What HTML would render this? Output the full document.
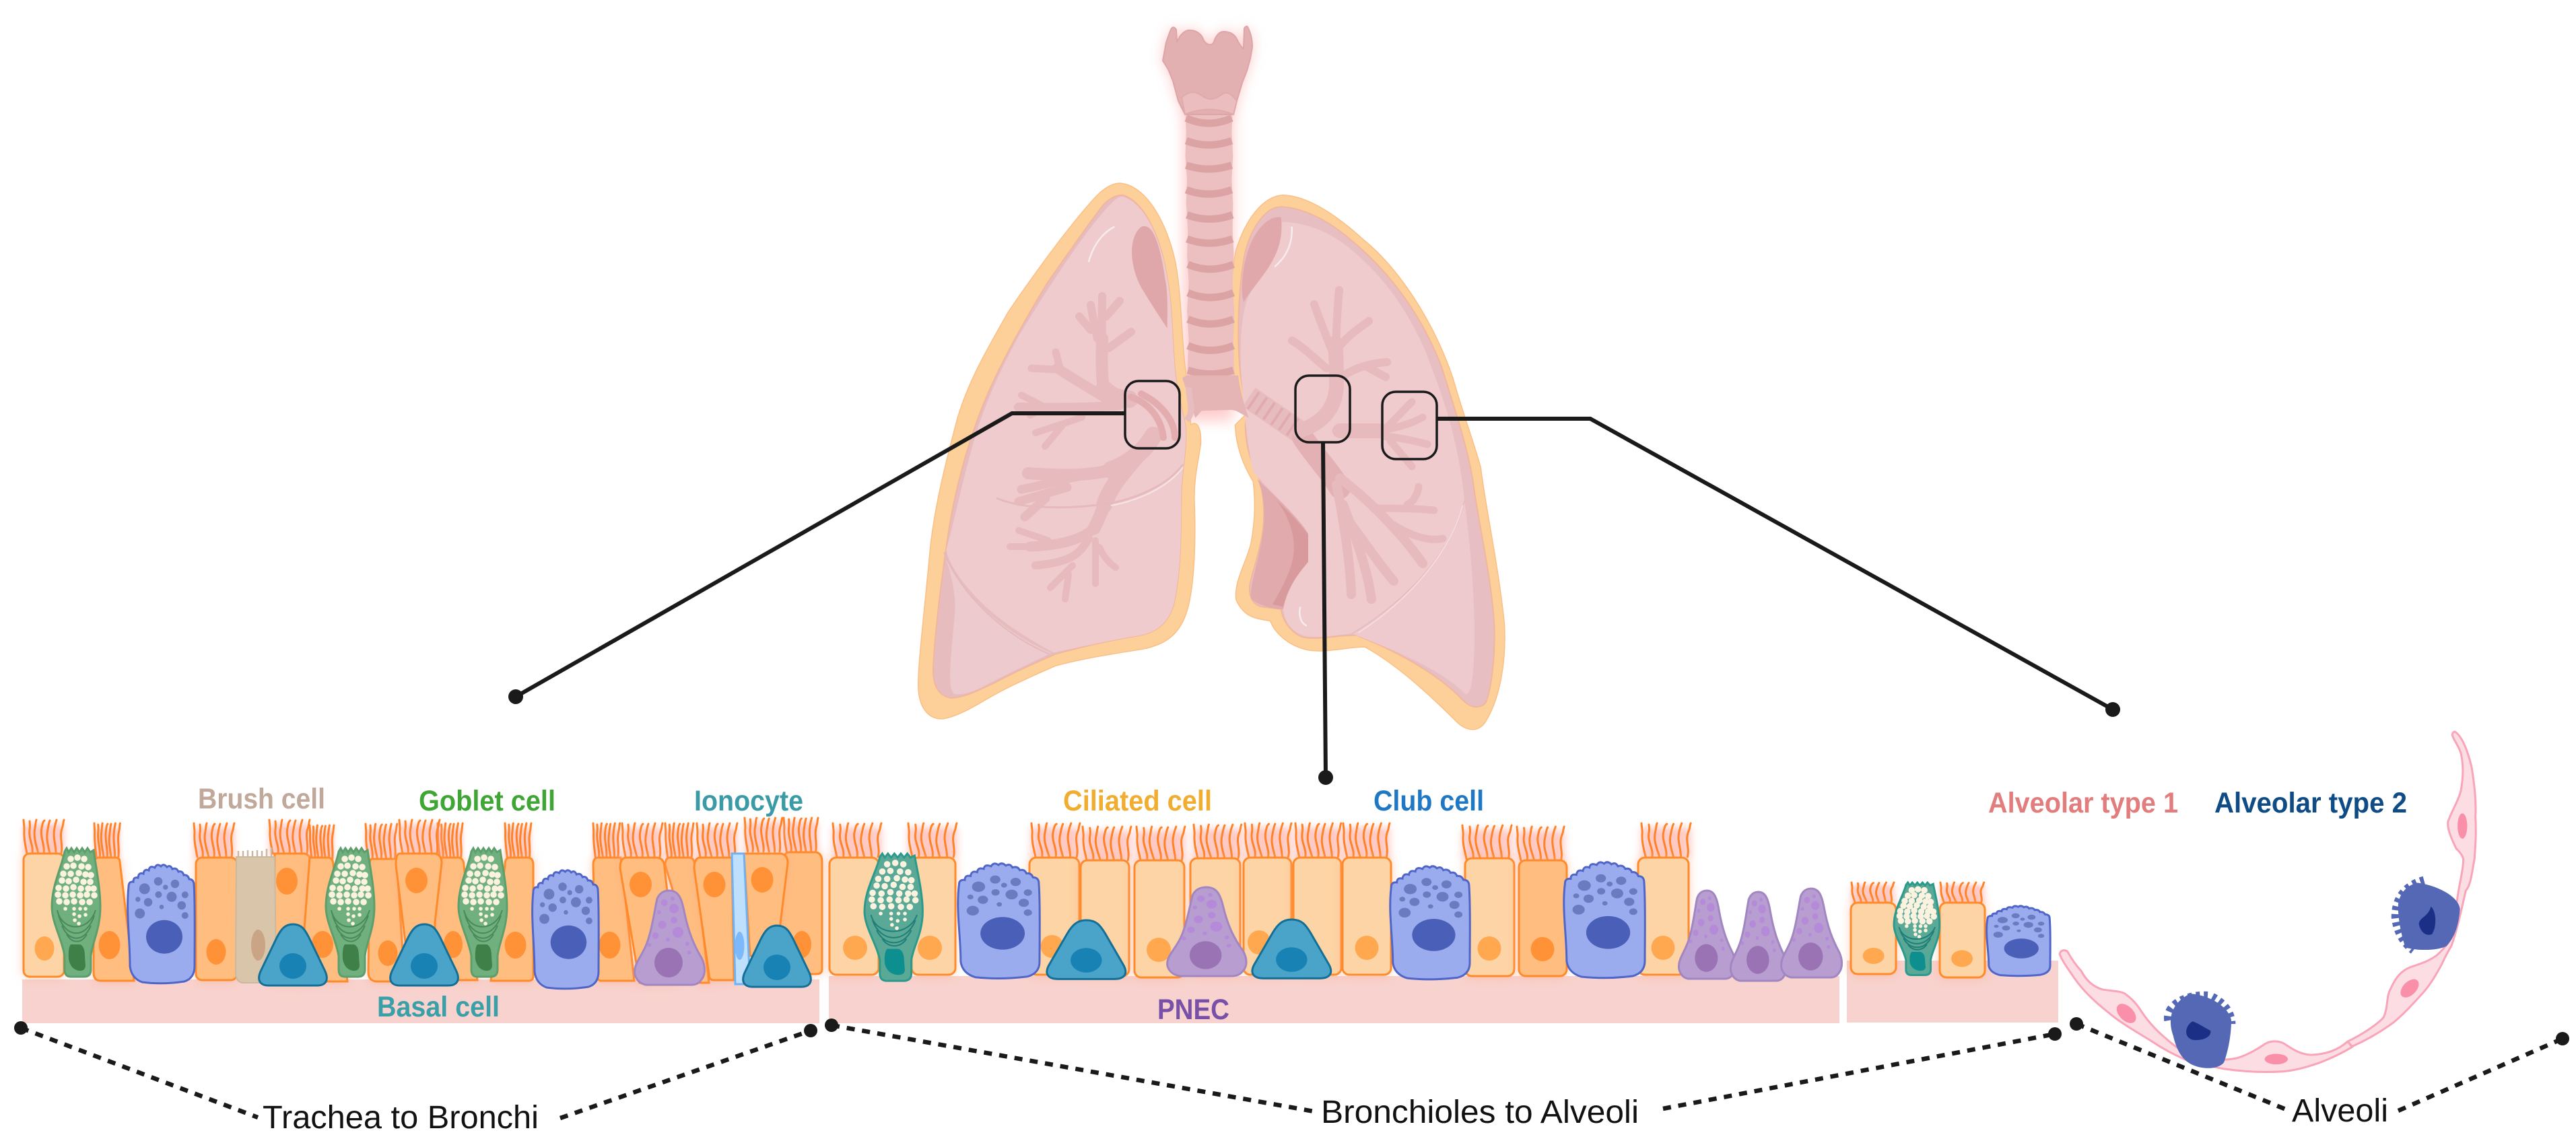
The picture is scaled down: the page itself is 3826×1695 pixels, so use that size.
<!DOCTYPE html>
<html>
<head>
<meta charset="utf-8">
<style>
html,body{margin:0;padding:0;background:#fff}
svg{display:block}
svg *{vector-effect:non-scaling-stroke}
text{font-family:"Liberation Sans",sans-serif}
.lab{font-weight:bold;font-size:43px}
.blk{font-size:48px;fill:#111}
.cl{fill:#fdd4a5;stroke:#ff8a2a;stroke-width:3;filter:drop-shadow(0 0 7px rgba(255,170,130,.55))}
.cd{fill:#ffbe80;stroke:#ff8a2a;stroke-width:3;filter:drop-shadow(0 0 7px rgba(255,170,130,.55))}
.nl{fill:#ffa850}
.nd{fill:#ff9236}
.dash{fill:none;stroke:#1a1a1a;stroke-width:6.5;stroke-dasharray:12 11}
.con{fill:none;stroke:#1a1a1a;stroke-width:6}
.box{fill:none;stroke:#1a1a1a;stroke-width:3.5}
.bt{fill:none;stroke:#e7babd;stroke-linecap:round;stroke-linejoin:round}
</style>
</head>
<body>
<svg xmlns="http://www.w3.org/2000/svg" width="3826" height="1695" viewBox="0 0 3826 1695">
<defs>
<filter id="b8" x="-40%" y="-40%" width="180%" height="180%"><feGaussianBlur stdDeviation="10"/></filter>
<filter id="b5" x="-30%" y="-30%" width="160%" height="160%"><feGaussianBlur stdDeviation="5"/></filter>
<path id="lx" d="M1738 46Q1742 36 1747 44L1748 63C1752 52 1760 44 1768 45C1778 45 1785 52 1787 58C1790 66 1800 70 1803 62C1806 52 1812 47 1817 47C1828 47 1834 52 1837 58C1840 65 1845 72 1847 72L1848 42Q1852 36 1854 42C1858 50 1860 60 1860 70L1857 87L1852 105L1845 123L1837 150L1832 170L1760 170L1750 150L1742 120L1735 103L1727 90L1732 63Z"/>
<g id="ci">
<rect x="0" y="6" width="60" height="46" fill="#ffaea6" opacity=".65" filter="url(#b5)"/>
<path fill="none" stroke="#ff8226" stroke-width="3" stroke-linecap="round" d="M5 50C3 38 0 28 1 14 1 8 0 3 0 0M13 50C15 38 7 28 9 14 10 8 9 3 9 2M22 50C19 38 14 25 17 12 18 6 18 2 19 0M30 50C32 38 24 25 27 12 28 6 29 2 31 1M39 50C36 36 33 28 36 14 37 8 38 3 39 1M48 50C48 36 43 26 46 12 47 6 48 3 49 0M56 50C59 35 52 25 58 10 59 6 59 2 60 0"/>
</g>
<g id="go">
<path style="fill:var(--gf);stroke:var(--gs)" stroke-width="3" d="M19 5L22 0L25 6L29 0L33 6L37 0L41 6L45 0L49 6L53 0L57 6L62 3C66 30 72 60 72 87C72 120 60 140 58 160L58 180Q58 191 48 191L28 191Q19 191 19 180L19 160C15 135 0 110 0 87C0 55 14 30 19 5Z"/>
<path fill="none" stroke="#fbf3df" stroke-width="9.5" stroke-linecap="round" d="M28 16h.1M38 14h.1M48 16h.1M22 27h.1M32 26h.1M44 27h.1M54 28h.1M17 38h.1M28 38h.1M40 37h.1M50 39h.1M58 40h.1M15 48h.1M25 49h.1M36 47h.1M47 50h.1M57 50h.1M10 59h.1M21 60h.1M32 58h.1M43 60h.1M54 60h.1M62 60h.1M9 69h.1M20 70h.1M31 69h.1M42 70h.1M52 69h.1M63 70h.1M11 79h.1M22 80h.1M33 79h.1M45 80h.1M56 80h.1"/>
<path fill="none" stroke="#fbf3df" stroke-width="5.5" stroke-linecap="round" d="M20 90h.1M33 90h.1M42 90h.1M50 90h.1M33 98h.1M41 101h.1M50 99h.1M34 107h.1M40 112h.1"/>
<path fill="none" style="stroke:var(--ga)" stroke-width="2" d="M8 92C15 125 55 125 65 92M10 100C20 135 52 135 63 100M15 115C25 140 48 140 58 115M22 128C30 142 44 142 52 128"/>
<path style="fill:var(--gn)" d="M28 143L42 143Q49 146 49 160L50 175Q49 183 40 182Q28 180 25 165Q24 148 28 143Z"/>
</g>
<g id="cb">
<path fill="#9bacee" stroke="#4f66c8" stroke-width="3" d="M2 32Q2 24 9 25Q9 17 16 19Q17 10 24 13Q25 5 32 8Q33 0 41 4Q44 -3 50 2Q54 -3 59 3Q64 -1 67 6Q73 3 76 10Q82 8 84 15Q90 14 92 21Q98 21 99 28C101 60 100 110 100 150Q100 168 85 173Q52 178 22 174Q6 168 4 150C4 110 -2 70 2 32Z"/>
<g fill="#6a7bc0">
<circle cx="25.7" cy="35.3" r="8"/><circle cx="46" cy="24.3" r="6.3"/><circle cx="70.9" cy="28" r="6.3"/><circle cx="56.8" cy="33" r="3.7"/><circle cx="46.4" cy="44" r="5"/><circle cx="66" cy="47.3" r="7.5"/><circle cx="85.8" cy="44.3" r="5"/><circle cx="15.8" cy="51" r="3.7"/><circle cx="31" cy="55.3" r="6.3"/><circle cx="80.8" cy="60" r="6.3"/><circle cx="51" cy="62.3" r="3.3"/><circle cx="18.7" cy="72" r="7.5"/><circle cx="85.8" cy="75" r="5"/>
</g>
<ellipse cx="55" cy="106.7" rx="27" ry="25" fill="#4a5fb8"/>
</g>
<g id="ba">
<path fill="#4aa3c9" stroke="#146f97" stroke-width="3" d="M52 0C65 0 70 8 76 20L100 70C106 84 100 91 88 91L16 91C4 91 -2 84 4 70L28 20C34 8 40 0 52 0Z"/>
<ellipse cx="52" cy="62" rx="20" ry="19" fill="#1782b3"/>
</g>
<g id="pn">
<path fill="#b79dd0" stroke="#a286c2" stroke-width="3" d="M52 0C65 0 70 10 74 30C80 60 88 80 100 100C106 112 106 125 100 132Q95 140 85 140L18 140Q5 138 1 125C-2 110 10 100 18 80C26 60 30 30 34 12C38 3 44 0 52 0Z"/>
<g fill="#b58bd9">
<circle cx="44.7" cy="18" r="5"/><circle cx="59" cy="26.7" r="7"/><circle cx="57" cy="12" r="3"/><circle cx="59" cy="44" r="5"/><circle cx="41.5" cy="50.7" r="6"/><circle cx="37" cy="32" r="3"/><circle cx="65" cy="62" r="8"/><circle cx="31.6" cy="67" r="5"/><circle cx="50" cy="72.7" r="3"/><circle cx="79" cy="79" r="3"/><circle cx="81.6" cy="92" r="3"/><circle cx="22.5" cy="80.7" r="3"/>
</g>
<ellipse cx="51" cy="107" rx="21" ry="22" fill="#9a73b5"/>
</g>
</defs>

<!-- glow behind airway -->
<use href="#lx" fill="#ff8f8f" opacity=".5" filter="url(#b8)"/>
<rect x="1758" y="165" width="74" height="460" fill="#ff8f8f" opacity=".45" filter="url(#b8)"/>

<!-- LEFT LUNG -->
<g transform="translate(1300,0) scale(.6378,.7015)">
<path fill="#fdd09a" stroke="#fbbf85" stroke-width="1.5" d="M570 388C630 392 680 470 700 560C715 640 712 720 725 800L735 900C745 890 760 900 758 940C752 980 742 1010 743 1060C746 1130 745 1220 730 1280C715 1340 680 1365 620 1375C550 1385 480 1395 420 1410C370 1430 320 1450 280 1470C240 1490 200 1515 160 1522C125 1525 100 1500 100 1450C100 1400 115 1290 128 1160C140 1060 170 960 190 890C215 810 260 740 310 660C370 580 450 480 510 420C530 400 550 388 570 388Z"/>
<path fill="#e6bcbf" stroke="#f0b69e" stroke-width="2" d="M575 413C625 425 665 500 680 590C695 660 690 760 705 830L722 900C728 950 712 1000 712 1060C712 1130 712 1210 695 1280C680 1325 650 1338 620 1345C550 1355 480 1370 420 1385C370 1405 320 1425 280 1445C240 1462 205 1478 175 1478C145 1472 133 1450 135 1410C140 1330 155 1220 170 1130C185 1040 215 940 250 860C285 780 340 690 400 600C450 535 500 470 530 435C545 420 560 413 575 413Z"/>
<path fill="#efcbce" d="M575 416C625 428 665 500 680 590C695 660 690 760 705 830L722 900C728 950 712 1000 712 1060C712 1130 712 1210 695 1280C680 1325 650 1338 620 1345C550 1355 480 1370 415 1382C350 1350 280 1310 230 1260C200 1230 175 1200 165 1165C185 1100 200 1030 222 960C247 870 287 790 335 710C395 620 480 500 540 440C552 428 565 416 575 416Z"/>
<path fill="#eccace" d="M160 1170C200 1260 300 1340 410 1383C360 1405 300 1430 260 1450C230 1465 205 1472 185 1470C165 1462 178 1380 185 1300C190 1250 170 1200 160 1170Z"/>
<path fill="#dfa7a9" d="M620 480C590 500 590 560 620 610C640 640 665 675 680 695C680 660 682 620 675 590C665 530 650 470 620 480Z"/>
<path fill="none" stroke="#f7ecec" stroke-width="2.5" d="M497 555C505 525 525 495 557 480"/>
<path fill="none" stroke="#e5b9bc" stroke-width="2" d="M160 1170C200 1260 300 1345 405 1385"/>
</g>
<g class="bt">
<path stroke-width="26" d="M1677 593C1660 592 1650 588 1640 578"/>
<path stroke-width="18" d="M1640 585C1636 560 1636 530 1637 503"/>
<path stroke-width="12" d="M1637 510C1636 480 1637 460 1637 440M1630 503C1626 485 1622 465 1620 453M1620 490L1603 470M1643 470L1663 447M1647 517L1680 493"/>
<path stroke-width="15" d="M1640 590C1615 575 1590 560 1570 547"/>
<path stroke-width="11" d="M1575 550L1568 523M1570 549L1532 547"/>
<path stroke-width="14" d="M1663 602C1620 606 1560 606 1513 605"/>
<path stroke-width="10" d="M1517 587L1547 602M1530 617L1550 606"/>
<path stroke-width="10" d="M1607 620L1538 643M1577 633L1552 663"/>
<path stroke-width="26" d="M1713 647C1700 670 1675 690 1650 698"/>
<path stroke-width="18" d="M1652 698C1625 705 1590 708 1527 703"/>
<path stroke-width="13" d="M1600 708C1580 712 1545 722 1517 727M1585 724L1513 745M1553 740L1522 768"/>
<path stroke-width="24" d="M1695 670C1670 700 1650 720 1640 750"/>
<path stroke-width="19" d="M1640 750C1635 765 1630 775 1625 785"/>
<path stroke-width="15" d="M1627 783C1610 800 1580 810 1530 812"/>
<path stroke-width="10" d="M1530 812L1500 812M1557 803L1513 788"/>
<path stroke-width="12" d="M1617 800C1605 820 1595 835 1538 840"/>
<path stroke-width="10" d="M1593 840L1560 873M1587 853L1582 890M1627 803L1627 867M1633 813C1638 825 1645 835 1657 843"/>
<path stroke-width="10" stroke="#e3adb0" d="M1680 590C1710 600 1725 625 1728 650M1695 585C1725 600 1745 625 1745 650"/>
</g>
<path fill="none" stroke="#e6babd" stroke-width="3" d="M1480 740C1500 748 1525 753 1547 753C1585 755 1620 752 1647 748C1690 740 1735 720 1757 690"/>
<path fill="none" stroke="#f7e4e4" stroke-width="2" d="M1650 751C1690 744 1735 724 1757 694"/>

<!-- RIGHT LUNG -->
<g transform="translate(1300,0) scale(.6378,.7015)">
<path fill="#fdd09a" stroke="#fbbf85" stroke-width="1.5" d="M950 413C1010 415 1080 460 1140 510C1220 570 1300 680 1345 800C1370 880 1395 940 1410 990C1420 1070 1450 1190 1465 1320C1470 1400 1455 1480 1420 1530C1400 1555 1370 1545 1350 1525C1300 1480 1220 1410 1140 1370C1100 1370 1040 1385 1000 1375C960 1365 930 1340 920 1315C890 1310 860 1310 840 1270C835 1230 865 1190 875 1150C885 1100 885 1060 880 1020C860 990 840 950 838 900L860 880L835 790C820 700 825 600 840 530C860 470 900 415 950 413Z"/>
<path fill="#e7bfc2" stroke="#f0b69e" stroke-width="2" d="M945 438C1000 440 1060 470 1110 510C1190 570 1270 660 1320 780C1350 870 1385 960 1395 1040C1410 1130 1440 1250 1442 1340C1442 1410 1432 1470 1420 1490C1400 1505 1380 1495 1360 1475C1310 1430 1230 1385 1120 1345C1080 1345 1030 1355 1000 1350C975 1345 950 1320 945 1290L900 1285C880 1280 870 1265 872 1240C880 1200 905 1150 905 1090C905 1060 900 1030 895 1015C880 990 862 950 862 900L865 880L850 790C840 700 848 600 860 540C875 480 910 438 945 438Z"/>
<path fill="#efcbce" d="M945 470C1000 470 1060 490 1110 530C1190 590 1260 680 1300 790C1330 860 1360 950 1372 1060C1350 1150 1260 1260 1120 1340C1080 1345 1030 1352 1000 1347C975 1340 950 1320 950 1285C960 1240 990 1210 1008 1190L1008 1130C985 1095 925 1045 880 1000C870 960 860 890 852 790C848 710 855 640 880 610C915 560 950 520 945 470Z"/>
<path fill="#eecace" d="M1372 1060C1385 1150 1395 1250 1395 1340C1395 1420 1390 1470 1375 1470C1320 1420 1220 1380 1110 1342C1250 1260 1350 1150 1372 1060Z"/>
<path fill="#e1aaac" d="M890 1015C930 1050 985 1095 1008 1130L1008 1190C990 1210 960 1240 950 1290C920 1290 890 1280 875 1268C870 1240 900 1170 905 1110C907 1080 905 1045 890 1015Z"/>
<path fill="#d89a9d" d="M935 1060C965 1085 990 1110 1008 1132L1008 1190C990 1210 965 1235 950 1285L925 1280C950 1240 975 1200 975 1160C975 1125 960 1090 935 1060Z"/>
<path fill="#e0a8aa" d="M945 460C950 500 940 530 920 560C900 590 870 620 858 640C850 620 855 570 865 540C880 490 915 455 945 460Z"/>
<path fill="none" stroke="#f7ecec" stroke-width="2.5" d="M930 565C955 545 972 520 970 480"/>
<path fill="none" stroke="#f7ecec" stroke-width="2.5" d="M990 1285C985 1300 990 1320 1005 1325"/>
<path fill="none" stroke="#e7bcbf" stroke-width="2" d="M1372 1060C1350 1150 1260 1260 1110 1342"/>
<path fill="none" stroke="#f5e0e0" stroke-width="1.5" d="M1368 1070C1345 1155 1258 1262 1125 1340"/>
</g>
<g class="bt">
<path stroke-width="34" stroke="#e7bcbf" stroke-linecap="butt" d="M1855 590L1935 645"/>
<path stroke-width="30" stroke="#dfabae" stroke-dasharray="4 10" stroke-linecap="butt" d="M1860 594L1925 638"/>
<path stroke-width="32" stroke="#e3b0b3" d="M1935 650C1955 680 1975 700 1990 725"/>
<path stroke-width="14" d="M1985 720C1995 770 2005 830 2007 883M1995 750C2010 790 2030 840 2037 890M2000 770C2030 810 2050 840 2070 863"/>
<path stroke-width="14" d="M1990 710C2030 740 2080 790 2113 837"/>
<path stroke-width="11" d="M2070 780C2095 795 2120 805 2143 800M2045 755C2070 755 2100 755 2130 758M2090 750C2100 745 2105 735 2107 723"/>
<path stroke-width="22" d="M1930 640C1960 630 1985 610 1985 570C1985 550 1985 530 1983 510"/>
<path stroke-width="12" d="M1983 540C1985 500 1985 470 1989 431M1978 520C1968 495 1958 470 1952 452M1985 520C2000 500 2015 490 2033 477"/>
<path stroke-width="12" d="M1970 547C1950 530 1935 515 1919 506M1992 560C2015 545 2035 540 2060 538M2030 545L2058 560"/>
<path stroke-width="22" d="M1990 640L2053 640"/>
<path stroke-width="11" d="M2050 640C2075 635 2095 630 2113 620M2060 635L2097 597M2055 648C2080 650 2100 655 2120 660M2065 655L2097 693"/>
</g>

<!-- TRACHEA -->
<g transform="translate(1300,0) scale(.6378,.7015)">
<path fill="#ecc0c1" d="M722 238L832 238L830 280L833 330L830 380L833 430L832 490L835 540L832 600L836 660L834 720L836 800L726 800L730 720L726 660L730 600L726 540L728 490L724 430L726 380L722 330L724 280Z"/>
<path fill="none" stroke="#dca3a5" stroke-width="11" d="M724 250Q776 272 830 250M724 298Q776 316 830 298M724 350Q776 366 830 350M724 402Q776 420 830 402M726 455Q778 473 832 455M726 506Q778 524 832 506M728 560Q780 580 834 560M728 620Q780 640 834 620M728 676Q780 696 834 676M728 732Q780 752 834 732M728 784Q780 800 834 784"/>
<path fill="#e5b5b6" d="M725 795L845 795C850 830 860 860 870 885L840 870L830 868L760 870L745 885L715 800Z"/>
<path fill="none" stroke="#e8bdbf" stroke-width="9" d="M730 820C730 850 745 870 725 890"/>
</g>
<use href="#lx" fill="#e3b0b1" stroke="#dda5a7" stroke-width="2"/>
<path fill="#ebbdbe" stroke="#e0a9ab" stroke-width="2" d="M1755 145C1765 135 1775 135 1785 142C1795 150 1805 148 1815 140C1822 135 1830 140 1837 150L1832 170Q1796 155 1760 170Z"/>

<!-- basement -->
<rect x="33" y="1455" width="1184" height="65" fill="#f8d2ce"/>
<rect x="1231" y="1450" width="1501" height="70" fill="#f8d2ce"/>
<rect x="2743" y="1427" width="314" height="92" fill="#f8d2ce"/>

<!-- Segment 1 -->
<use href="#ci" transform="translate(35,1218)"/>
<rect class="cl" x="35" y="1268" width="60" height="183" rx="9"/>
<ellipse class="nl" cx="66" cy="1409" rx="14.5" ry="18"/>
<use href="#ci" transform="translate(140,1223) scale(.64,1)"/>
<path class="cd" d="M147 1274L171 1274Q178 1274 178 1280L199 1457L150 1457Q139 1457 139 1445L139 1285Q139 1274 147 1274Z"/>
<ellipse class="nd" cx="162.5" cy="1404" rx="16" ry="21"/>
<use href="#ci" transform="translate(288,1223)"/>
<rect class="cd" x="291" y="1274" width="61" height="182" rx="9"/>
<ellipse class="nd" cx="321" cy="1414" rx="14.5" ry="19"/>
<use href="#ci" transform="translate(400,1218)"/>
<path class="cd" d="M408 1268L452 1268Q462 1270 462 1282L452 1380L452 1460L408 1460Z"/>
<ellipse class="nd" cx="426" cy="1309" rx="16" ry="20"/>
<use href="#ci" transform="translate(460,1226) scale(.6,1)"/>
<path class="cd" d="M460 1274L488 1274Q495 1275 495 1285L516 1458L452 1458L452 1380Z"/>
<ellipse class="nd" cx="479" cy="1403" rx="16" ry="20"/>
<use href="#ci" transform="translate(543,1224) scale(.78,1)"/>
<path class="cd" d="M553 1276L589 1276L601 1458L558 1458Q547 1456 547 1444L549 1285Q549 1276 553 1276Z"/>
<ellipse class="nd" cx="576" cy="1416" rx="14.5" ry="19"/>
<use href="#ci" transform="translate(650,1223) scale(.62,1)"/>
<path class="cd" d="M656 1274L682 1274Q689 1276 689 1286L709 1456L645 1456L646 1370Z"/>
<ellipse class="nd" cx="673" cy="1403" rx="14" ry="20"/>
<use href="#ci" transform="translate(593,1218)"/>
<path class="cd" d="M594 1268L646 1268Q656 1270 656 1282L646 1370L645 1456L609 1456L588 1285Q588 1268 594 1268Z"/>
<ellipse class="nd" cx="618.5" cy="1308" rx="16.5" ry="19"/>
<use href="#ci" transform="translate(750,1223) scale(.65,1)"/>
<path class="cd" d="M757 1274L785 1274Q792 1275 792 1285L792 1450Q792 1457 785 1457L729 1457L750 1285Q750 1274 757 1274Z"/>
<ellipse class="nd" cx="765.5" cy="1404" rx="16" ry="20"/>
<use href="#ci" transform="translate(881,1223) scale(.66,1)"/>
<path class="cd" d="M888 1274L922 1274L942 1457L892 1457Q885 1455 885 1445L881 1285Q881 1274 888 1274Z"/>
<ellipse class="nd" cx="905.5" cy="1404" rx="16" ry="20"/>
<use href="#ci" transform="translate(988,1223) scale(.7,1)"/>
<path class="cd" d="M995 1274L1025 1274Q1031 1275 1032 1285L1053 1460L1040 1460L988 1285Q988 1274 995 1274Z"/>
<use href="#ci" transform="translate(924,1223)"/>
<path class="cd" d="M930 1274L976 1274Q987 1275 987 1290L1000 1400L1000 1460L950 1460L921 1290Q921 1274 930 1274Z"/>
<ellipse class="nd" cx="951.5" cy="1314" rx="16.5" ry="19"/>
<use href="#ci" transform="translate(1035,1223)"/>
<path class="cd" d="M1040 1274L1087 1274L1090 1456L1060 1456Q1053 1456 1053 1447L1031 1290Q1031 1274 1040 1274Z"/>
<ellipse class="nd" cx="1061" cy="1314" rx="16.5" ry="19"/>
<use href="#ci" transform="translate(1164,1215) scale(.85,1)"/>
<path class="cd" d="M1172 1266L1212 1266Q1221 1268 1221 1280L1221 1440Q1221 1447 1212 1447L1160 1447L1150 1400L1164 1280Q1164 1266 1172 1266Z"/>
<ellipse class="nd" cx="1191" cy="1403" rx="14" ry="20"/>
<use href="#ci" transform="translate(1106,1215) scale(.93,1)"/>
<path class="cd" d="M1105 1268L1160 1268Q1170 1270 1170 1282L1158 1380L1150 1420L1114 1420Z"/>
<ellipse class="nd" cx="1132" cy="1307" rx="16.5" ry="19"/>
<path fill="#bfe0fc" stroke="#6eb2f5" stroke-width="3" d="M1087 1268L1105 1268L1114 1462L1092 1462Z"/>
<ellipse cx="1098.5" cy="1405" rx="7" ry="21" fill="#7db8fb"/>
<path fill="#d9c5a9" stroke="#cbb89f" stroke-width="2" d="M351 1273L408 1273L410 1440Q405 1460 395 1460L360 1460Q350 1458 350 1445Z"/>
<path fill="none" stroke="#cbb89f" stroke-width="2.5" d="M354 1273v-9M361 1273v-9M368 1273v-10M375 1273v-9M382 1273v-10M389 1273v-9M396 1273v-12M403 1273v-14"/>
<ellipse cx="383.5" cy="1404" rx="10.5" ry="23" fill="#c9a585"/>
<g style="--gf:#6fb07e;--gs:#5c9e6c;--ga:#4a8a5a;--gn:#3f8048">
<use href="#go" transform="translate(77,1260)"/>
<use href="#go" transform="translate(484,1260)"/>
<use href="#go" transform="translate(681,1260)"/>
</g>
<use href="#cb" transform="translate(189,1285)"/>
<use href="#cb" transform="translate(790,1293) scale(.99,1.0)"/>
<use href="#ba" transform="translate(383,1373)"/>
<use href="#ba" transform="translate(578,1373)"/>
<use href="#ba" transform="translate(1102,1375)"/>
<use href="#pn" transform="translate(942,1323)"/>

<!-- Segment 2 -->
<use href="#ci" transform="translate(1237,1223) scale(1.2,1)"/>
<rect class="cl" x="1232" y="1274" width="73" height="174" rx="10"/>
<ellipse class="nl" cx="1270" cy="1408" rx="18" ry="18"/>
<use href="#ci" transform="translate(1349,1223) scale(1.2,1)"/>
<rect class="cl" x="1354" y="1274" width="65" height="174" rx="10"/>
<ellipse class="nl" cx="1381" cy="1408" rx="18" ry="18"/>
<use href="#ci" transform="translate(1532,1223) scale(1.2,1)"/>
<rect class="cl" x="1529" y="1274" width="74" height="174" rx="10"/>
<ellipse class="nl" cx="1562.6" cy="1406" rx="17" ry="17"/>
<use href="#ci" transform="translate(1608,1228) scale(1.2,1)"/>
<rect class="cl" x="1605" y="1278" width="72" height="172" rx="10"/>
<use href="#ci" transform="translate(1688,1228) scale(1.2,1)"/>
<rect class="cl" x="1685" y="1278" width="74" height="174" rx="10"/>
<ellipse class="nl" cx="1721" cy="1411" rx="18" ry="18"/>
<use href="#ci" transform="translate(1773,1225) scale(1.18,1)"/>
<rect class="cl" x="1768" y="1275" width="74" height="173" rx="10"/>
<use href="#ci" transform="translate(1849,1223) scale(1.15,1)"/>
<rect class="cl" x="1847" y="1274" width="71" height="174" rx="10"/>
<ellipse class="nl" cx="1870" cy="1400" rx="17" ry="18"/>
<use href="#ci" transform="translate(1924,1223) scale(1.13,1)"/>
<rect class="cl" x="1921" y="1274" width="71" height="174" rx="10"/>
<use href="#ci" transform="translate(1995,1223) scale(1.15,1)"/>
<rect class="cl" x="1994" y="1274" width="72" height="174" rx="10"/>
<ellipse class="nl" cx="2030" cy="1408" rx="17.5" ry="18"/>
<use href="#ci" transform="translate(2172,1226) scale(1.22,1)"/>
<rect class="cl" x="2176" y="1275" width="73" height="175" rx="10"/>
<ellipse class="nl" cx="2212" cy="1409" rx="17.5" ry="18"/>
<use href="#ci" transform="translate(2253,1228) scale(1.17,1)"/>
<rect class="cd" x="2256" y="1278" width="71" height="172" rx="10"/>
<ellipse class="nd" cx="2291" cy="1410" rx="17.5" ry="18"/>
<use href="#ci" transform="translate(2438,1223) scale(1.22,1)"/>
<rect class="cl" x="2433" y="1274" width="75" height="174" rx="10"/>
<ellipse class="nl" cx="2470" cy="1408" rx="17.5" ry="18"/>
<g style="--gf:#5aa896;--gs:#2b9a8c;--ga:#1f7f78;--gn:#0e8f8f">
<use href="#go" transform="translate(1284,1268) scale(1.2,.99)"/>
</g>
<use href="#cb" transform="translate(1422,1283) scale(1.22,.97)"/>
<use href="#cb" transform="translate(2064,1287) scale(1.19,.955)"/>
<use href="#cb" transform="translate(2322,1281) scale(1.21,.977)"/>
<use href="#ba" transform="translate(1553,1367) scale(1.16,.96)"/>
<use href="#ba" transform="translate(1858,1366) scale(1.16,.96)"/>
<use href="#pn" transform="translate(1733,1318) scale(1.13,.943)"/>
<use href="#pn" transform="translate(2493,1323) scale(.81,.936)"/>
<use href="#pn" transform="translate(2570,1325) scale(.8,.943)"/>
<use href="#pn" transform="translate(2645,1320) scale(.867,.943)"/>

<!-- Segment 3 -->
<use href="#ci" transform="translate(2750,1311) scale(1.05,.6)"/>
<rect class="cl" x="2749" y="1341" width="67" height="106" rx="10"/>
<ellipse class="nl" cx="2782.6" cy="1420" rx="16" ry="12"/>
<use href="#ci" transform="translate(2882,1311) scale(1.08,.6)"/>
<rect class="cl" x="2881" y="1341" width="67" height="111" rx="10"/>
<ellipse class="nl" cx="2914" cy="1424" rx="16" ry="12.5"/>
<g style="--gf:#5aa896;--gs:#2b9a8c;--ga:#1f7f78;--gn:#0e8f8f">
<use href="#go" transform="translate(2813,1311) scale(.94,.72)"/>
</g>
<use href="#cb" transform="translate(2950,1346) scale(.95,.59)"/>

<!-- Alveolar membrane -->
<g transform="translate(2700,1080) scale(.71812,.39216)">
<path fill="#fbdde3" stroke="#f9a4b8" stroke-width="3" d="M1318 18C1335 40 1345 100 1352 150C1358 220 1362 280 1360 340C1362 400 1360 450 1358 500C1352 560 1350 600 1340 620C1330 700 1322 770 1310 830C1300 860 1295 880 1290 900C1275 950 1265 980 1250 1010C1225 1060 1210 1090 1190 1120C1160 1160 1130 1190 1105 1210L1095 1190L1105 1212C1080 1240 1060 1255 1040 1270C1010 1290 985 1302 960 1305C920 1310 880 1305 840 1295C810 1285 785 1275 760 1260C735 1240 710 1215 690 1190C655 1150 625 1120 600 1080C565 1030 545 990 530 950C515 910 505 885 500 860C502 845 510 842 516 850C525 880 535 905 545 925C555 960 570 985 590 995C610 1000 625 1000 635 1010C650 1030 660 1050 670 1080C685 1120 700 1150 720 1180C735 1205 760 1240 785 1255C815 1265 845 1262 865 1255C885 1245 905 1225 925 1200C935 1190 950 1185 965 1200C985 1225 1000 1240 1020 1242C1050 1240 1075 1225 1095 1192C1125 1165 1155 1130 1170 1100C1180 1060 1175 1020 1185 990C1195 950 1205 925 1225 910C1250 895 1265 885 1280 865C1295 840 1305 815 1310 800C1315 740 1320 680 1325 620C1330 570 1335 530 1335 500C1332 480 1325 470 1320 460C1310 420 1302 390 1303 360C1310 320 1325 280 1330 240C1335 190 1335 140 1330 100C1325 70 1315 50 1312 30C1312 24 1314 18 1318 18Z"/>
<ellipse cx="1333" cy="375" rx="10" ry="48" fill="#f98fa8"/>
<ellipse cx="1224" cy="990" rx="16" ry="36" fill="#f98fa8" transform="rotate(18 1224 990)"/>
<ellipse cx="948" cy="1258" rx="24" ry="20" fill="#f98fa8"/>
<ellipse cx="638" cy="1085" rx="17" ry="38" fill="#f98fa8" transform="rotate(-18 638 1085)"/>
<!-- AT2 cell A -->
<path fill="none" stroke="#5468b5" stroke-width="20" stroke-dasharray="5.5 5.5" d="M1255 590C1215 610 1200 660 1200 720C1203 770 1215 810 1235 838"/>
<path fill="#5468b5" d="M1240 590C1280 600 1325 640 1328 690C1325 760 1315 800 1300 830C1280 848 1240 848 1215 835C1205 780 1200 720 1200 680C1200 640 1215 600 1240 590Z"/>
<path fill="#1b2f86" d="M1268 680C1280 700 1280 760 1270 785C1255 795 1245 770 1243 745C1245 720 1262 720 1268 680Z"/>
<!-- AT2 cell B -->
<path fill="none" stroke="#5468b5" stroke-width="20" stroke-dasharray="5.5 5.5" d="M730 1110C725 1060 765 1020 810 1028C835 1050 850 1085 850 1125"/>
<path fill="#5468b5" d="M770 1010C810 1015 850 1060 855 1110C855 1170 848 1230 840 1270C830 1295 800 1300 775 1280C750 1260 740 1210 735 1170C725 1120 725 1050 770 1010Z"/>
<path fill="#1b2f86" d="M775 1115C790 1125 800 1140 812 1150C815 1175 795 1190 775 1185C755 1175 760 1130 775 1115Z"/>
</g>

<!-- connectors -->
<rect class="box" x="1671" y="566" width="81" height="100" rx="20"/>
<rect class="box" x="1924" y="558" width="81" height="99" rx="20"/>
<rect class="box" x="2053" y="582" width="81" height="100" rx="20"/>
<path class="con" d="M1671 614L1503 614L766 1035"/>
<path class="con" d="M1965 657L1969 1155"/>
<path class="con" d="M2135 622L2362 622L3138 1054"/>
<circle cx="766" cy="1035" r="11" fill="#1a1a1a"/>
<circle cx="1969" cy="1155" r="11" fill="#1a1a1a"/>
<circle cx="3138" cy="1054" r="11" fill="#1a1a1a"/>

<path class="dash" d="M31 1527L383 1660"/>
<path class="dash" d="M832 1661L1204 1531"/>
<path class="dash" d="M1235 1523L1957 1652"/>
<path class="dash" d="M2470 1647L3052 1536"/>
<path class="dash" d="M3084 1521L3400 1650"/>
<path class="dash" d="M3562 1650L3806 1543"/>
<circle cx="31" cy="1527" r="10" fill="#1a1a1a"/>
<circle cx="1204" cy="1531" r="10" fill="#1a1a1a"/>
<circle cx="1235" cy="1523" r="10" fill="#1a1a1a"/>
<circle cx="3052" cy="1536" r="10" fill="#1a1a1a"/>
<circle cx="3084" cy="1521" r="10" fill="#1a1a1a"/>
<circle cx="3806" cy="1543" r="10" fill="#1a1a1a"/>

<!-- labels -->
<text class="lab" x="294" y="1201" fill="#c0a99a" textLength="189" lengthAdjust="spacingAndGlyphs">Brush cell</text>
<text class="lab" x="622" y="1204" fill="#3fa535" textLength="203" lengthAdjust="spacingAndGlyphs">Goblet cell</text>
<text class="lab" x="1031" y="1204" fill="#3a9ba6" textLength="162" lengthAdjust="spacingAndGlyphs">Ionocyte</text>
<text class="lab" x="560" y="1510" fill="#3aa0a8" textLength="182" lengthAdjust="spacingAndGlyphs">Basal cell</text>
<text class="lab" x="1579" y="1204" fill="#f0ad30" textLength="221" lengthAdjust="spacingAndGlyphs">Ciliated cell</text>
<text class="lab" x="2040" y="1204" fill="#1f78c4" textLength="164" lengthAdjust="spacingAndGlyphs">Club cell</text>
<text class="lab" x="1719" y="1514" fill="#7850a8" textLength="107" lengthAdjust="spacingAndGlyphs">PNEC</text>
<text class="lab" x="2953" y="1207" fill="#e37c7c" textLength="282" lengthAdjust="spacingAndGlyphs">Alveolar type 1</text>
<text class="lab" x="3289" y="1207" fill="#0f4c86" textLength="286" lengthAdjust="spacingAndGlyphs">Alveolar type 2</text>
<text class="blk" x="390" y="1676" textLength="410" lengthAdjust="spacingAndGlyphs">Trachea to Bronchi</text>
<text class="blk" x="1962" y="1668" textLength="472" lengthAdjust="spacingAndGlyphs">Bronchioles to Alveoli</text>
<text class="blk" x="3404" y="1666" textLength="143" lengthAdjust="spacingAndGlyphs">Alveoli</text>
</svg>
</body>
</html>
